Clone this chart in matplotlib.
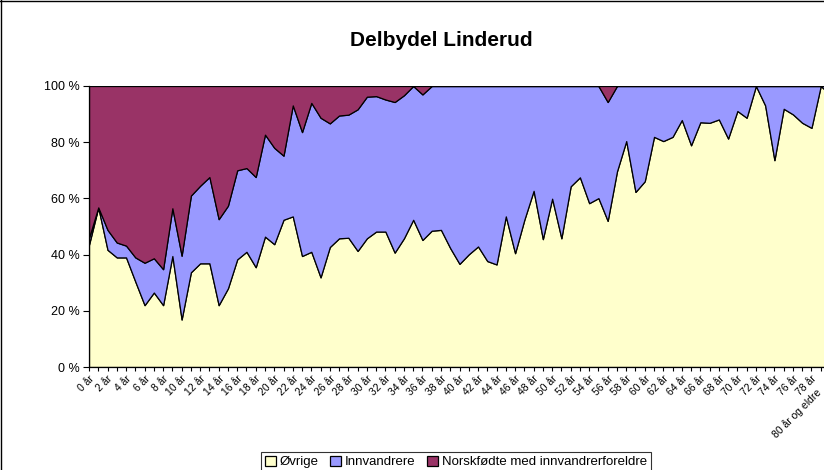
import numpy as np
import matplotlib
matplotlib.use("Agg")
import matplotlib.pyplot as plt
from matplotlib.lines import Line2D

plt.rcParams['font.family'] = ['Liberation Sans', 'DejaVu Sans']

# categories: 0 år .. 79 år, 80 år og eldre
ages = [f"{a} år" for a in range(80)] + ["80 år og eldre"]

# share (%) of Øvrige (bottom layer)
ovrige = [43.5, 56.8, 41.7, 39.0, 39.0, 30.4, 22.0, 26.5, 22.0, 39.5,
          16.9, 33.7, 36.9, 36.9, 22.0, 28.0, 38.3, 41.0, 35.5, 46.4,
          43.7, 52.4, 53.6, 39.5, 41.0, 31.9, 42.7, 45.8, 46.0, 41.3,
          45.8, 48.2, 48.2, 40.7, 45.8, 52.4, 45.2, 48.5, 48.8, 42.3,
          36.7, 40.1, 42.9, 37.7, 36.5, 53.6, 40.5, 52.4, 62.7, 45.5,
          59.9, 45.8, 64.3, 67.5, 58.3, 60.1, 52.0, 69.6, 80.4, 62.3,
          66.1, 81.9, 80.4, 81.9, 87.9, 78.9, 87.1, 86.9, 88.1, 81.3,
          91.1, 88.7, 100.0, 93.1, 73.6, 91.9, 89.9, 86.9, 85.1, 100.0,
          97.0]

# cumulative top of Innvandrere (Øvrige + Innvandrere)
topp = [46.0, 56.8, 48.8, 44.3, 43.2, 39.0, 37.1, 38.7, 34.8, 56.5,
        39.6, 61.0, 64.5, 67.6, 52.6, 57.4, 70.0, 70.8, 67.6, 82.7,
        78.0, 75.2, 93.1, 83.6, 94.0, 88.7, 86.7, 89.5, 89.8, 91.7,
        96.2, 96.4, 95.2, 94.3, 96.7, 100.0, 97.0, 100.0] + [100.0] * 18 + \
       [94.3] + [100.0] * 24

innvandrere = [t - o for t, o in zip(topp, ovrige)]
norskfodte = [100.0 - t for t in topp]

fig = plt.figure(figsize=(8.24, 4.70), dpi=100)
# chart is cut at the right edge: last category sits just outside the picture
ax = fig.add_axes([89 / 824, 1 - 367 / 470, 741 / 824, 281 / 470])

x = np.arange(len(ages))
ax.stackplot(x, ovrige, innvandrere, norskfodte,
             colors=['#FFFFCC', '#9999FF', '#993366'],
             edgecolor='black', linewidth=0.9,
             labels=['Øvrige', 'Innvandrere', 'Norskfødte med innvandrerforeldre'])

ax.set_xlim(0, len(ages) - 1)
ax.set_ylim(0, 100)
ax.set_yticks(range(0, 101, 20))
ax.set_yticklabels([f"{v} %" for v in range(0, 101, 20)], fontsize=9)
ax.set_xticks(x)
# every second label; the long last one is placed by hand so it stays in the picture
ax.set_xticklabels([lab if i % 2 == 0 and i < len(ages) - 1 else "" for i, lab in enumerate(ages)],
                   rotation=45, ha='right', va='top', rotation_mode='anchor', fontsize=7.5)
ax.annotate(ages[-1], xy=(len(ages) - 1, 0), xycoords=('data', 'axes fraction'),
            xytext=(-10, -14), textcoords='offset points',
            rotation=45, ha='right', va='top', rotation_mode='anchor', fontsize=7.5,
            annotation_clip=False)
ax.tick_params(axis='x', length=3, width=0.8, direction='out', pad=2)
ax.tick_params(axis='y', length=4, width=0.8, direction='out', pad=3)
for s in ['top', 'right']:
    ax.spines[s].set_visible(False)
ax.spines['left'].set_linewidth(0.9)
ax.spines['bottom'].set_linewidth(0.9)

fig.suptitle("Delbydel Linderud", x=441 / 824, y=1 - 31 / 470, fontsize=15, fontweight='bold')

leg = fig.legend(loc='center', bbox_to_anchor=(456 / 824, 1 - 462 / 470), ncol=3,
                 fontsize=9.5, frameon=True, fancybox=False, edgecolor='black',
                 handlelength=0.8, handleheight=0.8, handletextpad=0.3,
                 columnspacing=0.9, borderpad=0.3)
leg.get_frame().set_linewidth(0.8)

# outer chart frame (only left and top visible, the rest is cropped)
fig.add_artist(Line2D([0.0012, 0.0012], [0, 1], transform=fig.transFigure, color='black', lw=1))
fig.add_artist(Line2D([0, 1], [0.998, 0.998], transform=fig.transFigure, color='black', lw=1))

fig.savefig("out.png", dpi=100)
